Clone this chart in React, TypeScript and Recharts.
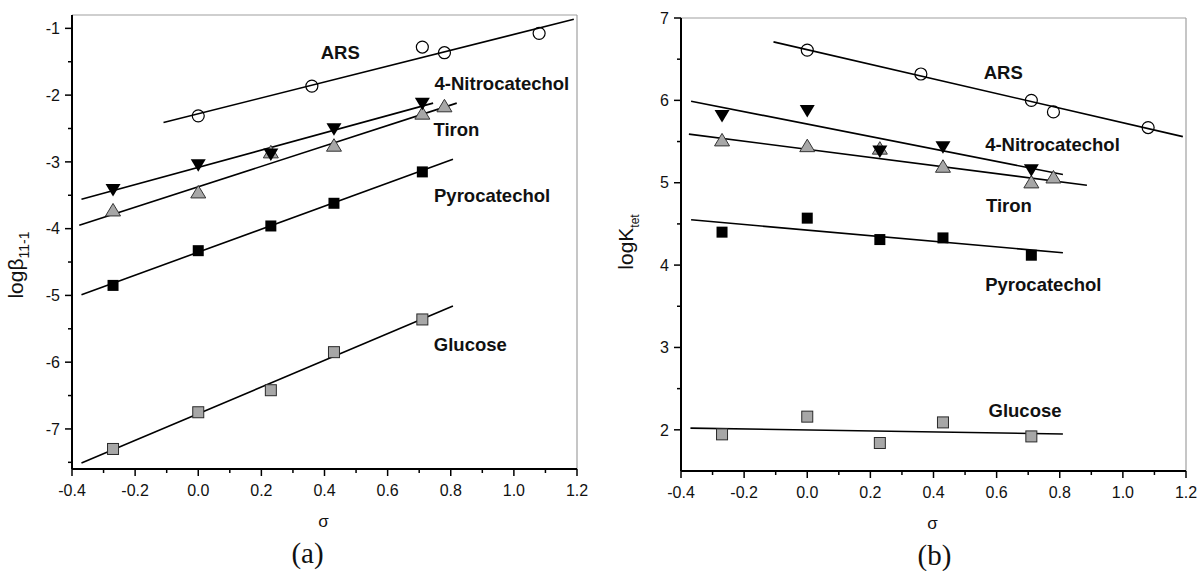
import React from "react";
import { ScatterChart, Scatter, XAxis, YAxis, ReferenceLine, ReferenceDot } from "recharts";

// Hammett sigma values of the substituents
const SIGMA_ARS = [0, 0.36, 0.71, 0.78, 1.08];
const SIGMA_FIVE = [-0.27, 0, 0.23, 0.43, 0.71];
const SIGMA_TIRON = [-0.27, 0, 0.23, 0.43, 0.71, 0.78];

// panel (a): log beta(11-1)
const A_ARS = [-2.31, -1.865, -1.28, -1.365, -1.075];
const A_NITRO = [-3.42, -3.05, -2.89, -2.51, -2.13];
const A_TIRON = [-3.72, -3.45, -2.85, -2.75, -2.27, -2.16];
const A_PYRO = [-4.85, -4.33, -3.96, -3.62, -3.15];
const A_GLUCOSE = [-7.3, -6.75, -6.42, -5.85, -5.36];

// panel (a) fitted lines, end points [sigma, value]
const A_ARS_FIT = [[-0.11, -2.41], [1.19, -0.865]];
const A_NITRO_FIT = [[-0.37, -3.56], [0.744, -2.12]];
const A_TIRON_FIT = [[-0.377, -3.95], [0.819, -2.12]];
const A_PYRO_FIT = [[-0.37, -4.99], [0.807, -2.96]];
const A_GLUCOSE_FIT = [[-0.37, -7.51], [0.807, -5.16]];

// panel (b): log K(tet)
const B_ARS = [6.61, 6.32, 6.0, 5.86, 5.67];
const B_NITRO = [5.81, 5.87, 5.38, 5.43, 5.15];
const B_TIRON = [5.52, 5.45, 5.42, 5.2, 5.01, 5.07];
const B_PYRO = [4.4, 4.57, 4.31, 4.33, 4.12];
const B_GLUCOSE = [1.945, 2.16, 1.84, 2.09, 1.92];

const B_ARS_FIT = [[-0.107, 6.71], [1.19, 5.56]];
const B_NITRO_FIT = [[-0.368, 5.99], [0.81, 5.1]];
const B_TIRON_FIT = [[-0.375, 5.59], [0.886, 4.97]];
const B_PYRO_FIT = [[-0.368, 4.55], [0.81, 4.15]];
const B_GLUCOSE_FIT = [[-0.37, 2.02], [0.81, 1.95]];

// series names and where they are written, [sigma, value]
const NAMES = ["ARS", "4-Nitrocatechol", "Tiron", "Pyrocatechol", "Glucose"];
const A_NAME_AT = [[0.45, -1.355], [0.962, -1.82], [0.818, -2.52], [0.931, -3.51], [0.862, -5.73]];
const B_NAME_AT = [[0.621, 6.335], [0.777, 5.47], [0.639, 4.72], [0.748, 3.76], [0.69, 2.23]];

const X_TICKS = [-0.4, -0.3, -0.2, -0.1, 0, 0.1, 0.2, 0.3, 0.4, 0.5, 0.6, 0.7, 0.8, 0.9, 1.0, 1.1, 1.2];
const A_Y_TICKS = [-7.5, -7, -6.5, -6, -5.5, -5, -4.5, -4, -3.5, -3, -2.5, -2, -1.5, -1];
const B_Y_TICKS = [2, 2.5, 3, 3.5, 4, 4.5, 5, 5.5, 6, 6.5, 7];

const pts = (xs: number[], ys: number[]) => xs.map((x, i) => ({ x, y: ys[i] }));
const seg = (p: number[][]) => p.map(([x, y]) => ({ x, y }));

const GRAY = "#a7a7a7";
const SANS = "Arial, 'Liberation Sans', sans-serif";

const OpenCircle = (p: any) => (
  <circle cx={p.cx} cy={p.cy} r={6} fill="none" stroke="#000" strokeWidth={1.2} />
);
const BlackSquare = (p: any) => (
  <rect x={p.cx - 5.5} y={p.cy - 5.5} width={11} height={11} fill="#000" />
);
const GraySquare = (p: any) => (
  <rect x={p.cx - 5.5} y={p.cy - 5.5} width={11} height={11} fill={GRAY} stroke="#2a2a2a" strokeWidth={1} />
);
const DownTriangle = (p: any) => (
  <polygon
    points={`${p.cx - 7.5},${p.cy - 6} ${p.cx + 7.5},${p.cy - 6} ${p.cx},${p.cy + 6.5}`}
    fill="#000"
  />
);
const UpTriangle = (p: any) => (
  <polygon
    points={`${p.cx - 7.5},${p.cy + 6} ${p.cx + 7.5},${p.cy + 6} ${p.cx},${p.cy - 6.5}`}
    fill={GRAY}
    stroke="#333"
    strokeWidth={1}
  />
);
const NoMark = () => <g />;

const XTick = (props: any) => {
  const { x, y, payload } = props;
  const v = payload.value as number;
  const major = Math.round(v * 10) % 2 === 0;
  return (
    <g>
      <line x1={x} x2={x} y1={y} y2={y + (major ? 7 : 4)} stroke="#000" strokeWidth={1.5} />
      {major && (
        <text x={x} y={y + 27} textAnchor="middle" fontSize={16} fill="#111" fontFamily={SANS}>
          {v.toFixed(1)}
        </text>
      )}
    </g>
  );
};

const YTick = (props: any) => {
  const { x, y, payload } = props;
  const v = payload.value as number;
  const major = Number.isInteger(v);
  return (
    <g>
      <line x1={x} x2={x - (major ? 7 : 4)} y1={y} y2={y} stroke="#000" strokeWidth={1.5} />
      {major && (
        <text x={x - 12} y={y} dy="0.36em" textAnchor="end" fontSize={16} fill="#111" fontFamily={SANS}>
          {v}
        </text>
      )}
    </g>
  );
};

const xTitle = (caption: string, shift: number) => ({
  content: (props: any) => {
    const { x, y, width } = props.viewBox;
    const cx = x + width / 2;
    return (
      <g>
        <text x={cx - 1} y={y + 58} textAnchor="middle" fontSize={17} fill="#111" fontFamily={SANS}>
          σ
        </text>
        <text
          x={cx + shift}
          y={y + 94}
          textAnchor="middle"
          fontSize={29}
          fill="#111"
          fontFamily="'Liberation Serif', 'Times New Roman', serif"
        >
          {caption}
        </text>
      </g>
    );
  },
});

type Series = {
  sigma: number[];
  vals: number[];
  fit: number[][];
  shape: (p: any) => React.ReactElement;
};

function Panel(props: {
  width: number;
  margin: { top: number; right: number; left: number; bottom: number };
  yAxisWidth: number;
  xAxisHeight: number;
  yDomain: [number, number];
  yTicks: number[];
  series: Series[];
  nameAt: number[][];
  caption: string;
  captionShift: number;
  yTitle: React.ReactElement;
}) {
  const [y0, y1] = props.yDomain;
  return (
    <ScatterChart width={props.width} height={571} margin={props.margin}>
      <XAxis
        type="number"
        dataKey="x"
        domain={[-0.4, 1.2]}
        ticks={X_TICKS}
        interval={0}
        height={props.xAxisHeight}
        tickSize={0}
        tickMargin={0}
        tick={XTick}
        axisLine={{ stroke: "#000", strokeWidth: 2 }}
        allowDataOverflow
        label={xTitle(props.caption, props.captionShift)}
      />
      <YAxis
        type="number"
        dataKey="y"
        domain={[y0, y1]}
        ticks={props.yTicks}
        interval={0}
        width={props.yAxisWidth}
        tickSize={0}
        tickMargin={0}
        tick={YTick}
        axisLine={{ stroke: "#000", strokeWidth: 2 }}
        allowDataOverflow
        label={{ content: () => props.yTitle }}
      />
      <ReferenceLine y={y1} stroke="#a0a0a0" strokeWidth={1.2} />
      <ReferenceLine x={1.2} stroke="#a0a0a0" strokeWidth={1.2} />
      {props.series.map((s, i) => (
        <Scatter
          key={"fit" + i}
          data={seg(s.fit)}
          line={{ stroke: "#000", strokeWidth: 1.6 }}
          shape={NoMark}
          isAnimationActive={false}
        />
      ))}
      {props.series.map((s, i) => (
        <Scatter
          key={"pts" + i}
          data={pts(s.sigma, s.vals)}
          shape={s.shape}
          isAnimationActive={false}
        />
      ))}
      {props.nameAt.map(([x, y], i) => (
        <ReferenceDot
          key={"name" + i}
          x={x}
          y={y}
          r={1}
          fill="none"
          stroke="none"
          label={{
            value: NAMES[i],
            position: "center",
            fill: "#111",
            fontSize: 18.5,
            fontWeight: 700,
            fontFamily: SANS,
          }}
        />
      ))}
    </ScatterChart>
  );
}

export default function App() {
  // drawing order: gray triangles under the black ones
  const aSeries: Series[] = [
    { sigma: SIGMA_ARS, vals: A_ARS, fit: A_ARS_FIT, shape: OpenCircle },
    { sigma: SIGMA_TIRON, vals: A_TIRON, fit: A_TIRON_FIT, shape: UpTriangle },
    { sigma: SIGMA_FIVE, vals: A_NITRO, fit: A_NITRO_FIT, shape: DownTriangle },
    { sigma: SIGMA_FIVE, vals: A_PYRO, fit: A_PYRO_FIT, shape: BlackSquare },
    { sigma: SIGMA_FIVE, vals: A_GLUCOSE, fit: A_GLUCOSE_FIT, shape: GraySquare },
  ];
  const bSeries: Series[] = [
    { sigma: SIGMA_ARS, vals: B_ARS, fit: B_ARS_FIT, shape: OpenCircle },
    { sigma: SIGMA_TIRON, vals: B_TIRON, fit: B_TIRON_FIT, shape: UpTriangle },
    { sigma: SIGMA_FIVE, vals: B_NITRO, fit: B_NITRO_FIT, shape: DownTriangle },
    { sigma: SIGMA_FIVE, vals: B_PYRO, fit: B_PYRO_FIT, shape: BlackSquare },
    { sigma: SIGMA_FIVE, vals: B_GLUCOSE, fit: B_GLUCOSE_FIT, shape: GraySquare },
  ];

  const aTitle = (
    <text
      transform="translate(23,265) rotate(-90)"
      textAnchor="middle"
      fontSize={21}
      fill="#111"
      fontFamily={SANS}
    >
      logβ
      <tspan fontSize={14} dy={6}>11-1</tspan>
    </text>
  );
  const bTitle = (
    <text
      transform="translate(33,242) rotate(-90)"
      textAnchor="middle"
      fontSize={21}
      fill="#111"
      fontFamily={SANS}
    >
      logK
      <tspan fontSize={12} dy={6}>tet</tspan>
    </text>
  );

  return (
    <div
      style={{
        position: "absolute",
        left: 0,
        top: 0,
        width: 1197,
        height: 571,
        background: "#fff",
        display: "flex",
        fontFamily: SANS,
      }}
    >
      <Panel
        width={600}
        margin={{ top: 15, right: 23, left: 0, bottom: 0 }}
        yAxisWidth={72}
        xAxisHeight={102}
        yDomain={[-7.6, -0.8]}
        yTicks={A_Y_TICKS}
        series={aSeries}
        nameAt={A_NAME_AT}
        caption="(a)"
        captionShift={-17}
        yTitle={aTitle}
      />
      <Panel
        width={597}
        margin={{ top: 18, right: 11, left: 0, bottom: 0 }}
        yAxisWidth={81}
        xAxisHeight={100}
        yDomain={[1.5, 7]}
        yTicks={B_Y_TICKS}
        series={bSeries}
        nameAt={B_NAME_AT}
        caption="(b)"
        captionShift={1}
        yTitle={bTitle}
      />
    </div>
  );
}
